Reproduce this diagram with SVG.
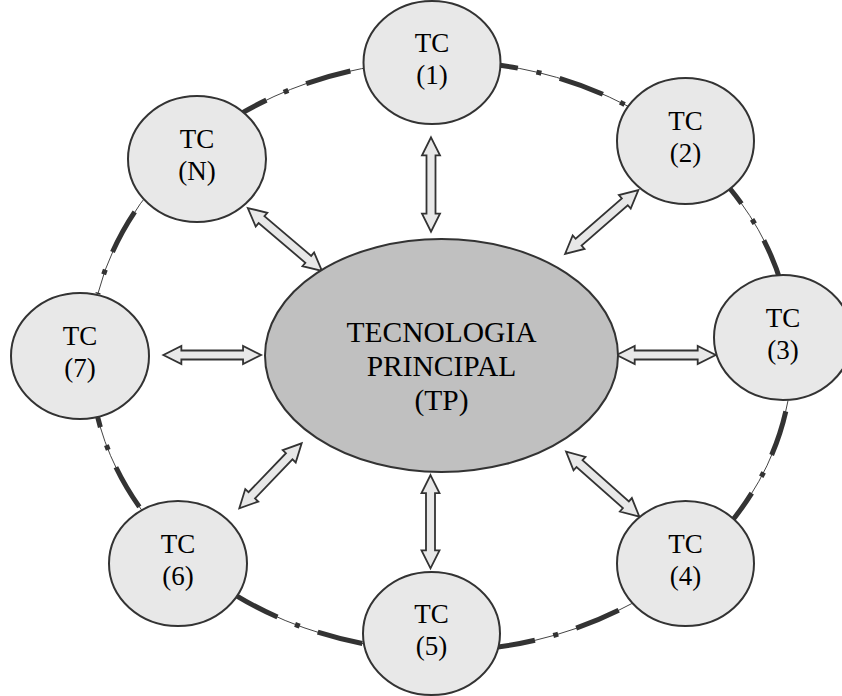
<svg xmlns="http://www.w3.org/2000/svg" xmlns:xlink="http://www.w3.org/1999/xlink" width="842" height="696" viewBox="0 0 842 696">
<style>
  .bg { fill: #ffffff; }
  .node ellipse { fill: #e8e8e8; stroke: #333333; stroke-width: 2; }
  .core ellipse { fill: #c0c0c0; stroke: #333333; stroke-width: 2; }
  .node text { font-family: "Liberation Serif", "Times New Roman", serif; font-size: 27px; fill: #000000; text-anchor: middle; }
  .core text { font-family: "Liberation Serif", "Times New Roman", serif; font-size: 29.5px; fill: #000000; text-anchor: middle; }
  .thin { fill: none; stroke: #444444; stroke-width: 1; }
  .thick { fill: none; stroke: #333333; stroke-width: 5; stroke-dasharray: 46 19 5 19; stroke-linecap: butt; }
  .arrow { fill: #e8e8e8; stroke: #333333; stroke-width: 1.8; stroke-linejoin: miter; }
</style>
<defs>
  <path id="segA" d="M241.7,113.2 A351,295 0 0 1 380.05,65.5"/>
  <path id="segB" d="M500.1,65.2 A351,295 0 0 1 642.3,114.3"/>
  <path id="segC" d="M729.9,188.5 A351,295 0 0 1 786.7,304.8"/>
  <path id="segD" d="M788.0,400.6 A351,295 0 0 1 728.5,525.2"/>
  <path id="segE" d="M631.9,603.5 A351,295 0 0 1 471.6,649.9"/>
  <path id="segF" d="M363.8,643.8 A351,295 0 0 1 215.4,582"/>
  <path id="segG" d="M141.7,510.1 A351,295 0 0 1 93.4,397.1"/>
  <path id="segH" d="M97.8,294.0 A351,295 0 0 1 215.4,130"/>
</defs>
<rect class="bg" x="0" y="0" width="842" height="696"/>
<g id="connectors">
  <g id="ring">
    <use xlink:href="#segA" href="#segA" class="thin"/>
    <use xlink:href="#segA" href="#segA" class="thick" style="stroke-dashoffset:18"/>
    <use xlink:href="#segB" href="#segB" class="thin"/>
    <use xlink:href="#segB" href="#segB" class="thick" style="stroke-dashoffset:28"/>
    <use xlink:href="#segC" href="#segC" class="thin"/>
    <use xlink:href="#segC" href="#segC" class="thick" style="stroke-dashoffset:27"/>
    <use xlink:href="#segD" href="#segD" class="thin"/>
    <use xlink:href="#segD" href="#segD" class="thick" style="stroke-dashoffset:78"/>
    <use xlink:href="#segE" href="#segE" class="thin"/>
    <use xlink:href="#segE" href="#segE" class="thick" style="stroke-dashoffset:74"/>
    <use xlink:href="#segF" href="#segF" class="thin"/>
    <use xlink:href="#segF" href="#segF" class="thick" style="stroke-dashoffset:87.5"/>
    <use xlink:href="#segG" href="#segG" class="thin"/>
    <use xlink:href="#segG" href="#segG" class="thick" style="stroke-dashoffset:85"/>
    <use xlink:href="#segH" href="#segH" class="thin"/>
    <use xlink:href="#segH" href="#segH" class="thick" style="stroke-dashoffset:44.5"/>
  </g>
  <g id="arrows">
    <polygon class="arrow" transform="translate(431,184.5) rotate(90)" points="-47.2,0 -29.2,-9 -29.2,-4.5 29.2,-4.5 29.2,-9 47.2,0 29.2,9 29.2,4.5 -29.2,4.5 -29.2,9"/>
    <polygon class="arrow" transform="translate(430.5,521.7) rotate(90)" points="-46.65,0 -28.65,-9 -28.65,-4.5 28.65,-4.5 28.65,-9 46.65,0 28.65,9 28.65,4.5 -28.65,4.5 -28.65,9"/>
    <polygon class="arrow" transform="translate(212.2,355)" points="-48.85,0 -30.85,-9 -30.85,-4.5 30.85,-4.5 30.85,-9 48.85,0 30.85,9 30.85,4.5 -30.85,4.5 -30.85,9"/>
    <polygon class="arrow" transform="translate(666.2,355)" points="-49.5,0 -31.5,-9 -31.5,-4.5 31.5,-4.5 31.5,-9 49.5,0 31.5,9 31.5,4.5 -31.5,4.5 -31.5,9"/>
    <polygon class="arrow" transform="translate(284.9,239.5) rotate(40.3)" points="-48.65,0 -30.65,-9 -30.65,-4.5 30.65,-4.5 30.65,-9 48.65,0 30.65,9 30.65,4.5 -30.65,4.5 -30.65,9"/>
    <polygon class="arrow" transform="translate(601.7,222) rotate(-41.1)" points="-48.65,0 -30.65,-9 -30.65,-4.5 30.65,-4.5 30.65,-9 48.65,0 30.65,9 30.65,4.5 -30.65,4.5 -30.65,9"/>
    <polygon class="arrow" transform="translate(270.5,475.8) rotate(-46.2)" points="-45.05,0 -27.05,-9 -27.05,-4.5 27.05,-4.5 27.05,-9 45.05,0 27.05,9 27.05,4.5 -27.05,4.5 -27.05,9"/>
    <polygon class="arrow" transform="translate(602.7,484.2) rotate(41.6)" points="-49,0 -31,-9 -31,-4.5 31,-4.5 31,-9 49,0 31,9 31,4.5 -31,4.5 -31,9"/>
  </g>
</g>
<g id="tp" class="core">
  <ellipse cx="441.5" cy="355.5" rx="176.5" ry="116.5"/>
  <text x="441.5" y="341.7">TECNOLOGIA</text>
  <text x="441.5" y="375.7">PRINCIPAL</text>
  <text x="441.5" y="410">(TP)</text>
</g>
<g id="tc1" class="node">
  <ellipse cx="432" cy="62.5" rx="68.5" ry="61.5"/>
  <text x="432" y="51.5">TC</text>
  <text x="432" y="83.5">(1)</text>
</g>
<g id="tc2" class="node">
  <ellipse cx="685.5" cy="141" rx="68.5" ry="63"/>
  <text x="685.5" y="130">TC</text>
  <text x="685.5" y="162">(2)</text>
</g>
<g id="tc3" class="node">
  <ellipse cx="783" cy="337.5" rx="69" ry="62.5"/>
  <text x="783" y="326.5">TC</text>
  <text x="783" y="358.5">(3)</text>
</g>
<g id="tc4" class="node">
  <ellipse cx="685.5" cy="563.5" rx="68.5" ry="62.5"/>
  <text x="685.5" y="552.5">TC</text>
  <text x="685.5" y="584.5">(4)</text>
</g>
<g id="tc5" class="node">
  <ellipse cx="431.5" cy="633.5" rx="68.5" ry="61.5"/>
  <text x="431.5" y="622.5">TC</text>
  <text x="431.5" y="654.5">(5)</text>
</g>
<g id="tc6" class="node">
  <ellipse cx="178" cy="563.5" rx="69" ry="62.5"/>
  <text x="178" y="552.5">TC</text>
  <text x="178" y="584.5">(6)</text>
</g>
<g id="tc7" class="node">
  <ellipse cx="80" cy="356" rx="69" ry="63"/>
  <text x="80" y="345">TC</text>
  <text x="80" y="377">(7)</text>
</g>
<g id="tcN" class="node">
  <ellipse cx="197" cy="159" rx="69" ry="63"/>
  <text x="197" y="148">TC</text>
  <text x="197" y="180">(N)</text>
</g>
</svg>
